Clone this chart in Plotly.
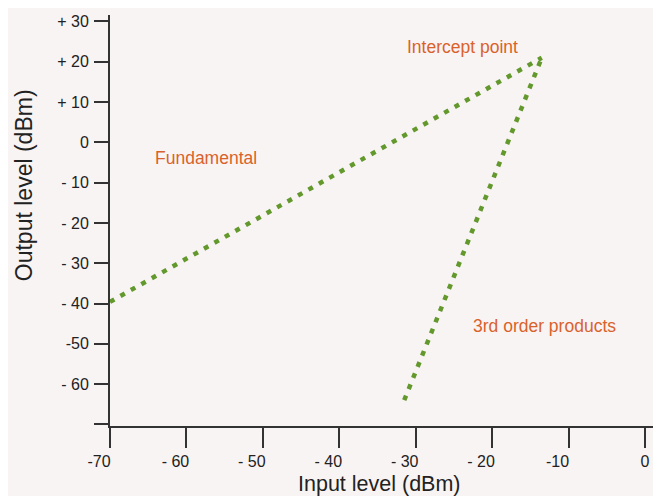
import plotly.graph_objects as go

# Data
fund_x = [-70, -13.5]
fund_y = [-39.6, 21]
third_x = [-31.5, -13.5]
third_y = [-64, 21]

x_tickvals = [-70, -60, -50, -40, -30, -20, -10, 0]
x_ticktext = ["-70", "- 60", "- 50", "- 40", "- 30", "- 20", "-10", "\u00a0\u00a0\u00a0\u00a0\u00a00"]
y_tickvals = [30, 20, 10, 0, -10, -20, -30, -40, -50, -60, -70]
y_ticktext = ["+ 30", "+ 20", "+ 10", "0", "- 10", "- 20", "- 30", "- 40", "-50", "- 60", ""]

labels = ["Intercept point", "Fundamental", "3rd order products"]
label_x = [-23.9, -57.4, -13.2]
label_y = [23.7, -3.9, -45.6]

line_color = "#62982c"
text_color = "#d9622b"
axis_color = "#333333"
bg = "#f9f4f4"
font = "Liberation Sans, Arial, sans-serif"

fig = go.Figure()
for xs, ys in [(fund_x, fund_y), (third_x, third_y)]:
    fig.add_trace(go.Scatter(x=xs, y=ys, mode="lines",
                             line=dict(color=line_color, width=4.5, dash="5px,7px"),
                             showlegend=False, hoverinfo="skip"))

for t, x, y in zip(labels, label_x, label_y):
    fig.add_annotation(x=x, y=y, text=t, showarrow=False,
                       font=dict(family=font, size=17.5, color=text_color))

fig.add_annotation(xref="paper", yref="paper", x=-0.156, y=0.586, text="Output level (dBm)",
                   xanchor="center", yanchor="middle",
                   textangle=-90, showarrow=False, font=dict(family=font, size=23, color="#222222"))
fig.add_annotation(xref="paper", yref="paper", x=0.49, y=-0.14, text="Input level (dBm)",
                   xanchor="center", yanchor="middle",
                   showarrow=False, font=dict(family=font, size=21.5, color="#222222"))

# page body has an 8px margin, so the figure is sized/offset to compensate
fig.update_layout(
    width=653, height=488,
    margin=dict(l=102, r=0, t=7, b=70, autoexpand=False),
    paper_bgcolor=bg, plot_bgcolor=bg,
    xaxis=dict(range=[-70, 2.1], tickvals=x_tickvals, ticktext=x_ticktext, automargin=False,
               showgrid=False, zeroline=False, showline=True, linecolor=axis_color, linewidth=2,
               ticks="outside", ticklen=20, tickwidth=1.5, tickcolor=axis_color,
               ticklabelshift=-11, ticklabelstandoff=0,
               tickfont=dict(family=font, size=16, color="#222222")),
    yaxis=dict(range=[-70.4, 31.6], tickvals=y_tickvals, ticktext=y_ticktext, automargin=False,
               showgrid=False, zeroline=False, showline=True, linecolor=axis_color, linewidth=2,
               ticks="outside", ticklen=14, tickwidth=1.5, tickcolor=axis_color,
               ticklabelstandoff=2,
               tickfont=dict(family=font, size=16, color="#222222")),
)

fig.write_html("out.html")
